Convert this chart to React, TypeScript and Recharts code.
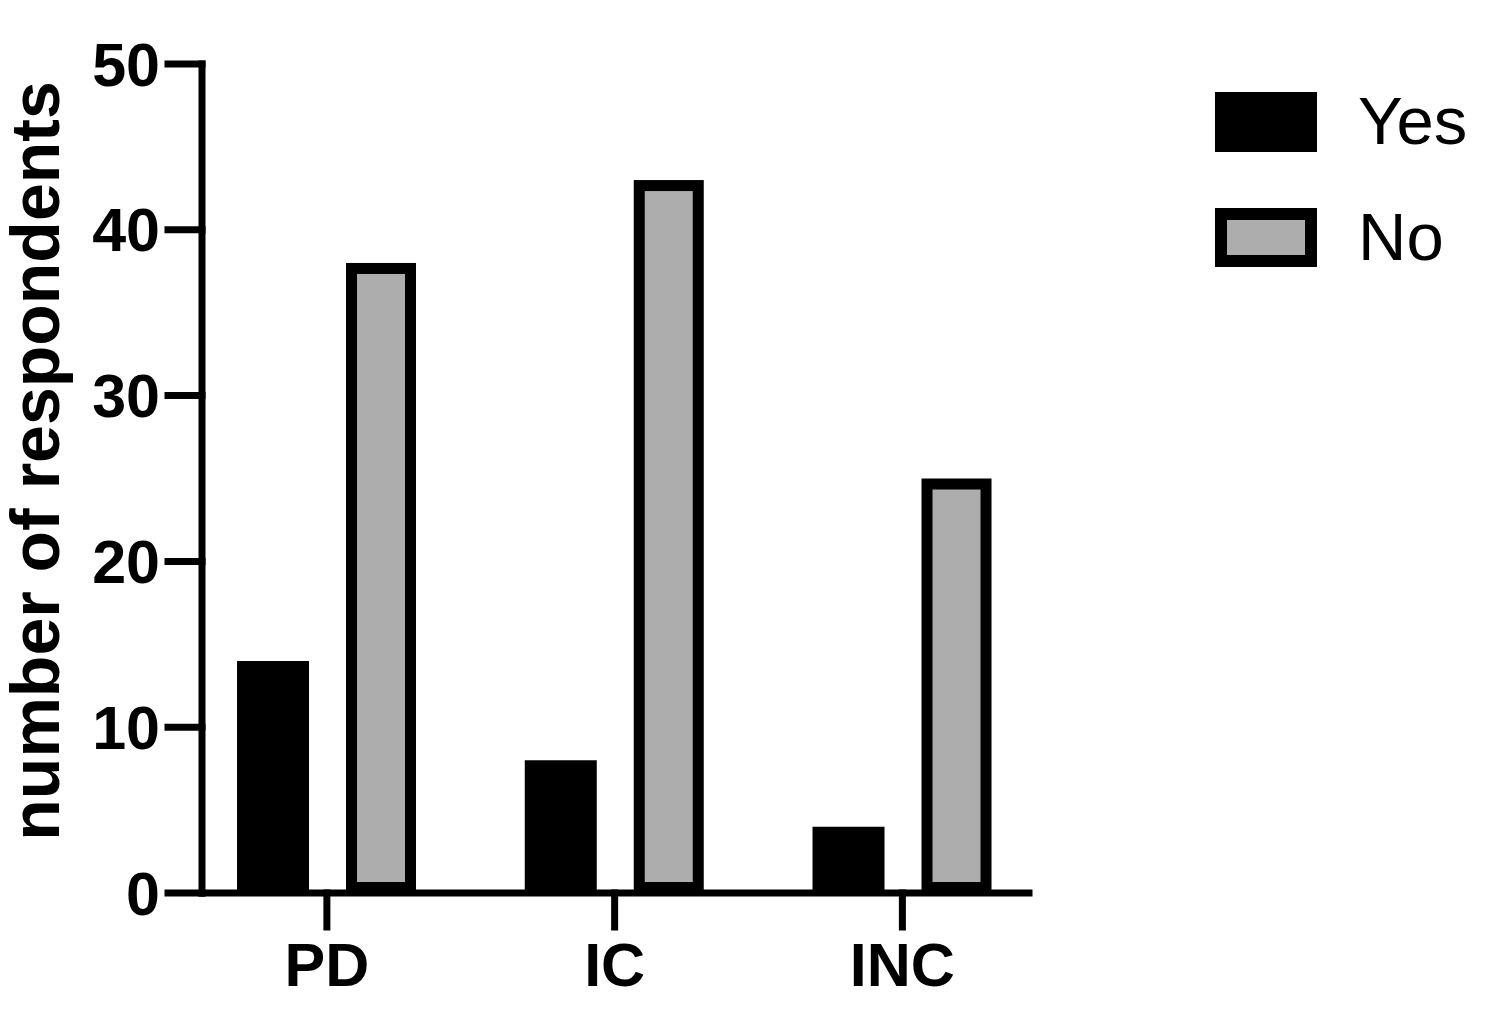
import React from 'react';
import { BarChart, Bar, XAxis, YAxis, Legend, Label } from 'recharts';

const categories = ['PD', 'IC', 'INC'];
const yesValues = [14, 8, 4];
const noValues = [38, 43, 25];
const yTicks = [0, 10, 20, 30, 40, 50];
const seriesOrder = ['Yes', 'No'];

const data = categories.map((name, i) => ({
  pos: i,
  name,
  Yes: yesValues[i],
  No: noValues[i],
}));

const FONT = '"Liberation Sans", Arial, Helvetica, sans-serif';
const AXIS_W = 7;
const BAR_STROKE = 11;

const axisStyle = { stroke: '#000', strokeWidth: AXIS_W, strokeLinecap: 'square' as const };
const tickStyle = { fill: '#000', fontSize: 61, fontWeight: 700, fontFamily: FONT };

// draws the outlined bar with its stroke kept inside the bar bounds
const OutlinedBar = (props: any) => {
  const { x, y, width, height } = props;
  if (height <= 0) return null;
  const h = BAR_STROKE / 2;
  return (
    <rect
      x={x + h}
      y={y + h}
      width={width - BAR_STROKE}
      height={height - BAR_STROKE}
      fill="#adadad"
      stroke="#000"
      strokeWidth={BAR_STROKE}
    />
  );
};

const LegendBox = ({ payload }: any) => {
  const items = [...(payload || [])].sort(
    (a: any, b: any) => seriesOrder.indexOf(a.value) - seriesOrder.indexOf(b.value)
  );
  return (
    <svg width={300} height={200} style={{ overflow: 'visible' }}>
      {items.map((entry: any, i: number) => {
        const top = i === 0 ? 12 : 128;
        const outlined = entry.value === 'No';
        return (
          <g key={entry.value}>
            {outlined ? (
              <rect x={21} y={top + 6} width={90} height={47} fill="#adadad" stroke="#000" strokeWidth={12} />
            ) : (
              <rect x={15} y={top} width={102} height={60} fill="#000" />
            )}
            <text x={158} y={top + 52} fontSize={67} fontFamily={FONT} fill="#000">
              {entry.value}
            </text>
          </g>
        );
      })}
    </svg>
  );
};

const YLabel = () => (
  <text
    x={59}
    y={461}
    transform="rotate(-90 59 461)"
    textAnchor="middle"
    fontSize={68}
    fontWeight={700}
    fontFamily={FONT}
    fill="#000"
  >
    number of respondents
  </text>
);

export default function App() {
  return (
    <div style={{ position: 'absolute', left: 0, top: 0, background: '#fff' }}>
      <BarChart
        width={1508}
        height={1032}
        data={data}
        margin={{ top: 64, right: 479, bottom: 0, left: 0 }}
        barGap={37}
      >
        <XAxis
          type="number"
          dataKey="pos"
          domain={[-0.434, 2.44]}
          ticks={[0, 1, 2]}
          tickFormatter={(v: number) => categories[v]}
          allowDataOverflow
          height={139}
          axisLine={axisStyle}
          tickLine={axisStyle}
          tickSize={34}
          tickMargin={16}
          tick={tickStyle}
        />
        <YAxis
          domain={[0, 50]}
          ticks={yTicks}
          width={202}
          axisLine={axisStyle}
          tickLine={axisStyle}
          tickSize={34}
          tickMargin={8}
          tick={tickStyle}
        >
          <Label content={<YLabel />} />
        </YAxis>
        <Legend
          content={<LegendBox />}
          wrapperStyle={{ position: 'absolute', left: 1200, top: 80, width: 300, height: 0, overflow: 'visible' }}
        />
        <Bar dataKey="Yes" fill="#000" barSize={72} isAnimationActive={false} />
        <Bar dataKey="No" fill="#adadad" barSize={70} shape={<OutlinedBar />} isAnimationActive={false} />
      </BarChart>
    </div>
  );
}
